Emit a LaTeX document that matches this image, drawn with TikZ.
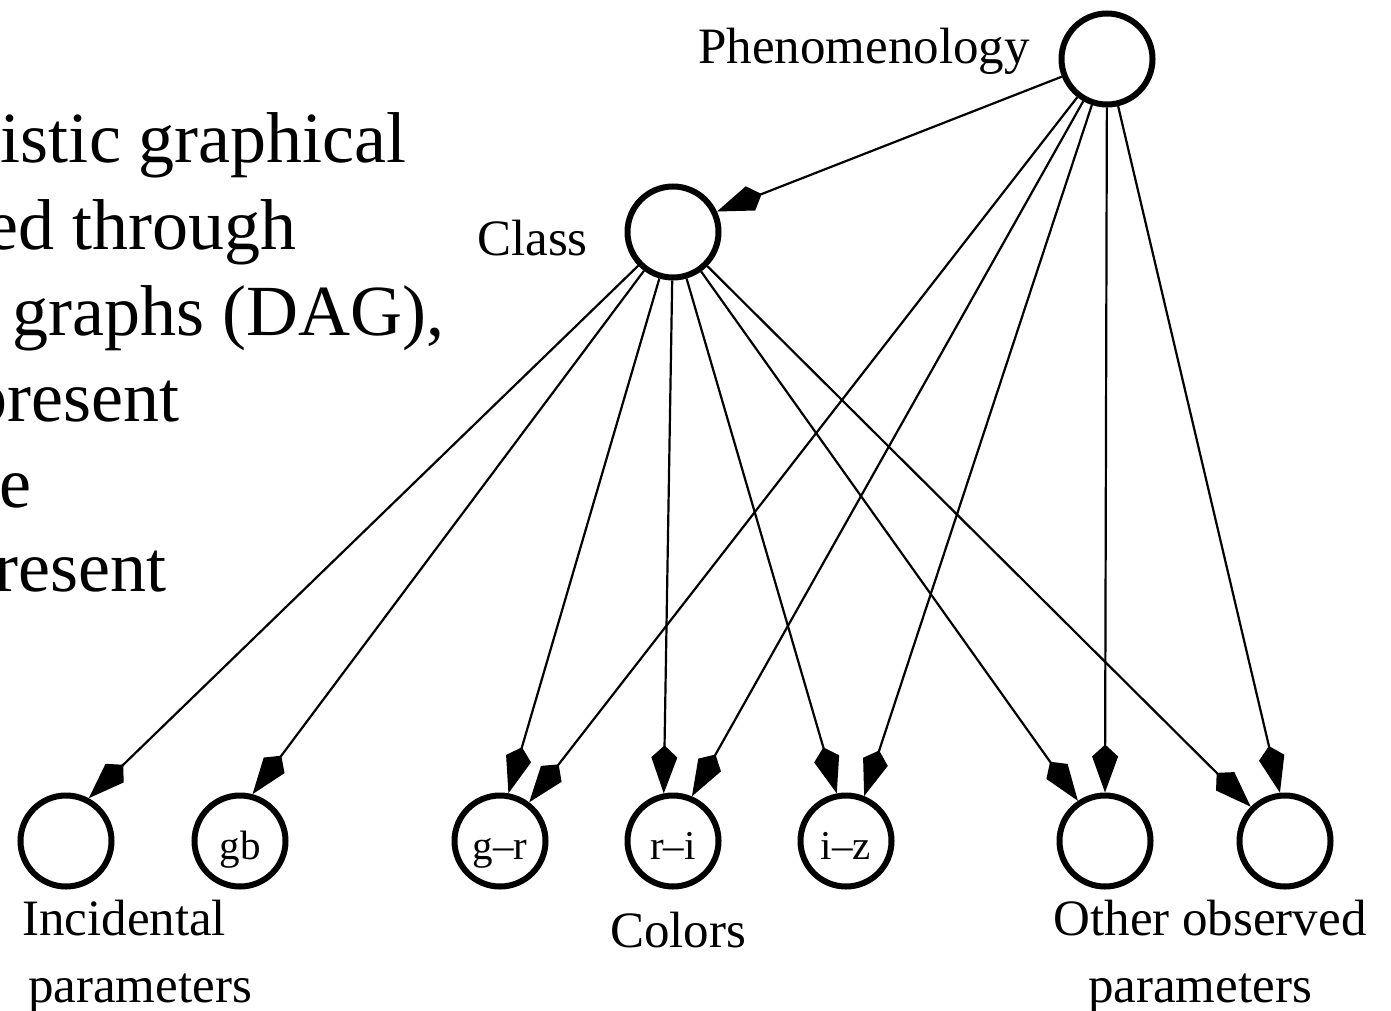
\documentclass[tikz,border=0pt]{standalone}
\usepackage{fontspec}
\setmainfont{Liberation Serif}
\usetikzlibrary{arrows.meta}
\begin{document}
\begin{tikzpicture}[x=1pt,y=-1pt,
  var/.style={circle,draw,line width=6pt,minimum size=91pt,inner sep=0pt},
  lbl/.style={font=\fontsize{51}{60}\selectfont,inner sep=0pt},
  inlbl/.style={font=\fontsize{41}{48}\selectfont,inner sep=0pt,anchor=base},
  slide/.style={font=\fontsize{72}{86}\selectfont,inner sep=0pt,anchor=base east},
  edge/.style={line width=2.2pt,-{Kite[length=48pt,width=26pt,inset=12pt]}}]
\fill[white] (0,0) rectangle (1391,1011);
\useasboundingbox (0,0) rectangle (1391,1011);
\clip (0,0) rectangle (1391,1011);
% slide text (cut off at the left)
\node[slide] (s1) at (407,163) {istic graphical};
\node[slide] (s2) at (297,249) {ed through};
\node[slide] (s3) at (445,335) {graphs (DAG),};
\node[slide] (s4) at (180,421) {present};
\node[slide] (s5) at (32,507) {e};
\node[slide] (s6) at (167,591) {resent};
% variables
\node[var] (phen) at (1107,59) {};
\node[var] (cls) at (673,232) {};
\node[var] (inc) at (66,841) {};
\node[var] (gb) at (240,841) {};
\node[var] (gr) at (500,841) {};
\node[var] (ri) at (673,841) {};
\node[var] (iz) at (846,841) {};
\node[var] (o1) at (1105,841) {};
\node[var] (o2) at (1285,841) {};
% inner labels
\node[inlbl] (tgb) at ([yshift=-18pt]gb.center) {gb};
\node[inlbl] (tgr) at ([yshift=-18pt]gr.center) {g\textendash r};
\node[inlbl] (tri) at ([yshift=-18pt]ri.center) {r\textendash i};
\node[inlbl] (tiz) at ([yshift=-18pt]iz.center) {i\textendash z};
% labels
\node[lbl,anchor=base east] (tphen) at (1030,64) {Phenomenology};
\node[lbl,anchor=base east] (tcls) at (588,255) {Class};
\node[lbl,anchor=base west] (tinc1) at (22,935) {Incidental};
\node[lbl,anchor=base west] (tinc2) at (28,1002) {parameters};
\node[lbl,anchor=base] (tcol) at (678,947) {Colors};
\node[lbl,anchor=base] (toth1) at (1210,935) {Other observed};
\node[lbl,anchor=base] (toth2) at (1200,1002) {parameters};
% edges
\draw[edge] (phen) -- (cls.25);
\draw[edge] (phen) -- (gr.53);
\draw[edge] (phen) -- (ri.67);
\draw[edge] (phen) -- (iz.68);
\draw[edge] (phen) -- (o1.90);
\draw[edge] (phen) -- (o2.96);
\draw[edge] (cls) -- (inc.62);
\draw[edge] (cls) -- (gb.75);
\draw[edge] (cls) -- (gr.80);
\draw[edge] (cls) -- (ri.101);
\draw[edge] (cls) -- (iz.101.5);
\draw[edge] (cls) -- (o1.124);
\draw[edge] (cls) -- (o2.135);
\end{tikzpicture}
\end{document}
